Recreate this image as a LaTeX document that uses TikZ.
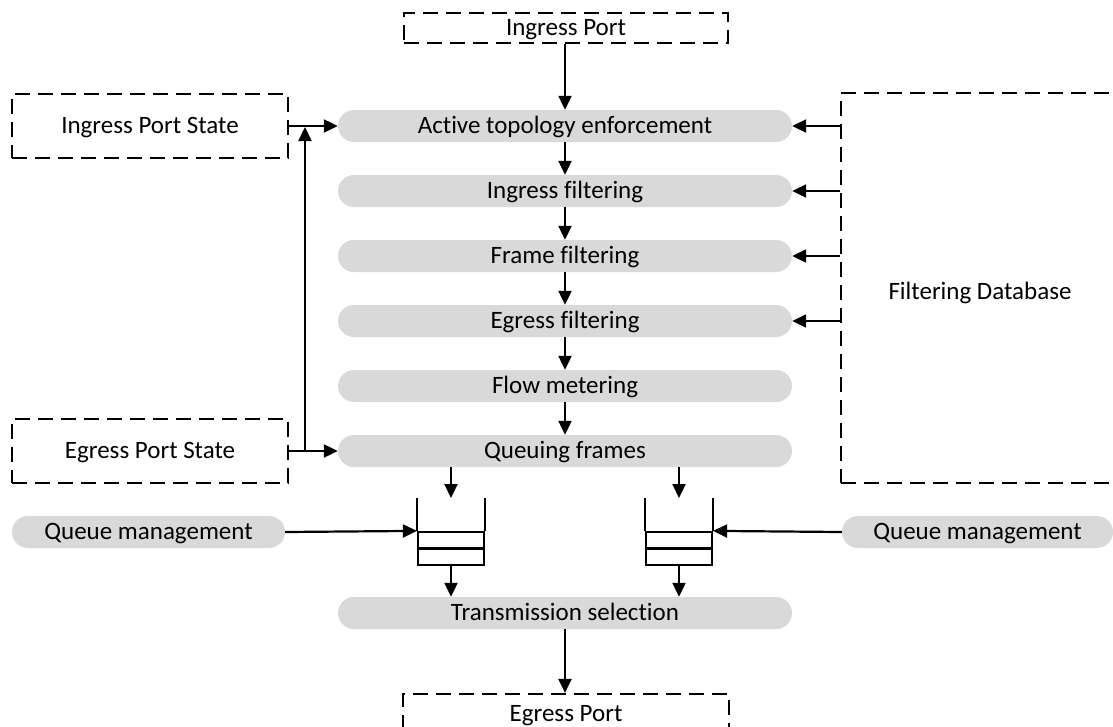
\documentclass[tikz,border=0pt]{standalone}
\usepackage{fontspec}
\setmainfont[Ligatures=NoCommon]{Carlito}
\usetikzlibrary{arrows.meta}
\definecolor{pillgray}{HTML}{D9D9D9}
\begin{document}
\begin{tikzpicture}[x=1pt,y=-1pt,
  font=\fontsize{25}{29}\selectfont,
  every node/.style={text height=17pt, text depth=2.5pt},
  pill/.style={fill=pillgray, rounded corners=16pt, minimum height=32pt, inner sep=0pt, text=black},
  stage/.style={pill, minimum width=454pt},
  portbox/.style={draw, line width=2.2pt, dash pattern=on 15pt off 8pt, inner sep=0pt},
  arr/.style={line width=2.2pt, -{Triangle[length=14pt,width=13pt]}},
  plain/.style={line width=2.2pt},
  queuebox/.style={draw, line width=2.2pt, minimum width=66pt, minimum height=33pt, inner sep=0pt,
    text height=0pt, text depth=0pt,
    path picture={\draw[line width=2.2pt] (path picture bounding box.west) -- (path picture bounding box.east);}}
]
\clip (0,0) rectangle (1113,726);

% ports
\node[portbox, minimum width=324pt, minimum height=30pt] (ip) at (566,28) {Ingress Port};
\node[portbox, minimum width=326pt, minimum height=40pt] (ep) at (566,714) {Egress Port};

% side state boxes
\node[portbox, minimum width=276pt, minimum height=64pt] (ips) at (150,126) {Ingress Port State};
\node[portbox, minimum width=276pt, minimum height=64pt] (eps) at (150,451) {Egress Port State};
\node[portbox, minimum width=284pt, minimum height=390pt] (fdb) at (983,288) {};
\node (fdbt) at (980,292) {Filtering Database};

% processing stages
\node[stage] (ate) at (565,126) {Active topology enforcement};
\node[stage] (inf) at (565,191) {Ingress filtering};
\node[stage] (frf) at (565,256) {Frame filtering};
\node[stage] (egf) at (565,321) {Egress filtering};
\node[stage] (flm) at (565,386) {Flow metering};
\node[stage] (qf)  at (565,451) {Queuing frames};
\node[stage] (ts)  at (565,613) {Transmission selection};

% queue management
\node[pill, minimum width=273pt] (qm1) at (148.5,532) {Queue management};
\node[pill, minimum width=271pt] (qm2) at (977.5,532) {Queue management};

% queues
\node[queuebox] (q1) at (451,548.5) {};
\node[queuebox] (q2) at (679,548.5) {};
\draw[plain] (q1.north west) -- ++(0,-33);
\draw[plain] (q1.north east) -- ++(0,-33);
\draw[plain] (q2.north west) -- ++(0,-33);
\draw[plain] (q2.north east) -- ++(0,-33);
\coordinate (q1in) at (451,498);
\coordinate (q2in) at (679,498);

% main flow
\draw[arr] (ip.south -| ate.north) -- (ate.north);
\draw[arr] (ate) -- (inf);
\draw[arr] (inf) -- (frf);
\draw[arr] (frf) -- (egf);
\draw[arr] (egf) -- (flm);
\draw[arr] (flm) -- (qf);
\draw[arr] (qf.south -| q1in) -- (q1in);
\draw[arr] (qf.south -| q2in) -- (q2in);
\draw[arr] (q1.south) -- (q1.south |- ts.north);
\draw[arr] (q2.south) -- (q2.south |- ts.north);
\draw[arr] (ts.south) -- (ts.south |- ep.north);

% port state
\coordinate (vbot) at (305,451);
\coordinate (vtop) at (305,127);
\draw[arr] (ips.east) -- (ate.west);
\draw[arr] (eps.east) -- (qf.west);
\draw[arr] (vbot) -- (vtop);

% filtering database
\draw[arr] (fdb.west |- ate) -- (ate.east);
\draw[arr] (fdb.west |- inf) -- (inf.east);
\draw[arr] (fdb.west |- frf) -- (frf.east);
\draw[arr] (fdb.west |- egf) -- (egf.east);

% queue management into queues
\draw[arr] (qm1.east) -- (q1.north west);
\draw[arr] (qm2.west) -- (q2.north east);
\end{tikzpicture}
\end{document}
